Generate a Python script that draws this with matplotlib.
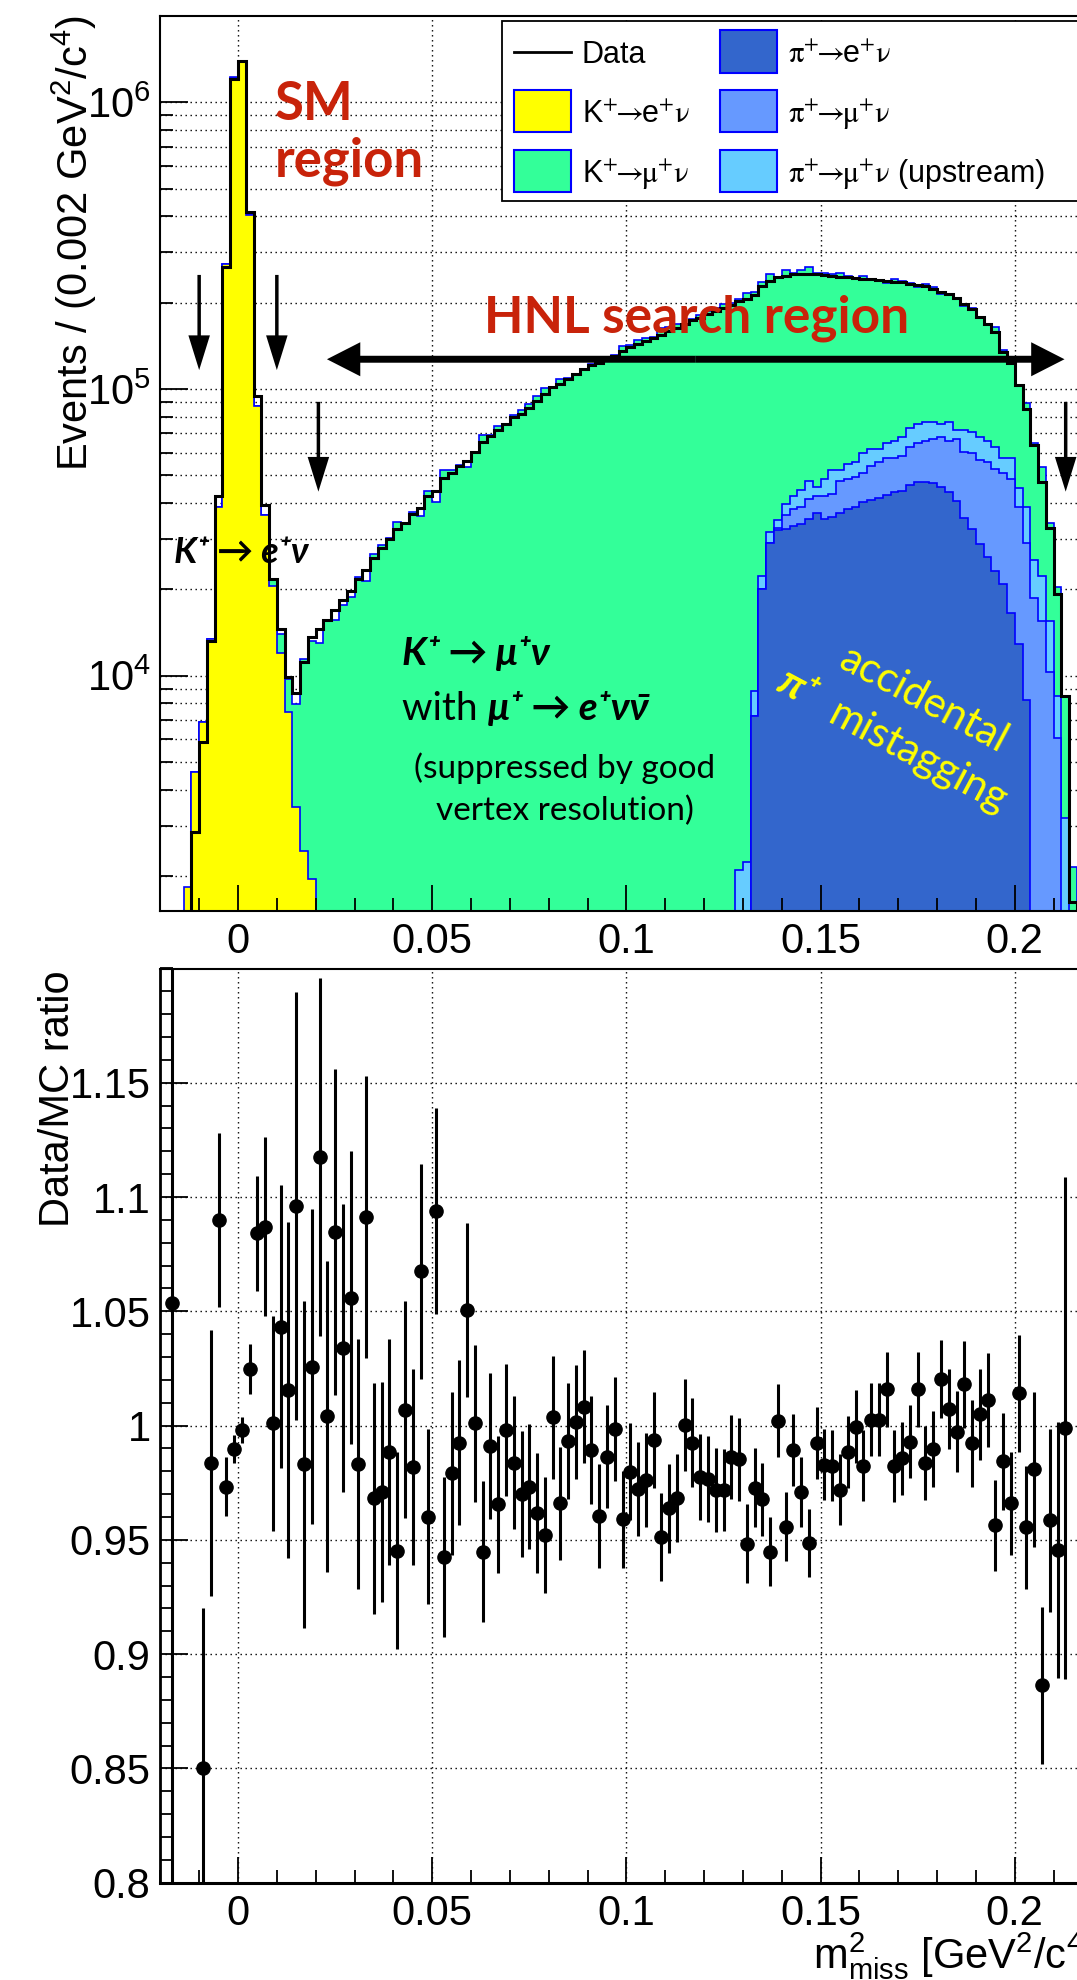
import numpy as np
import matplotlib
matplotlib.use("Agg")
import matplotlib.pyplot as plt
from matplotlib.patches import Rectangle, FancyArrowPatch
from matplotlib.lines import Line2D
from matplotlib.ticker import MultipleLocator, FixedLocator, FuncFormatter, LogLocator, NullFormatter

plt.rcParams["font.family"] = ["Liberation Sans", "DejaVu Sans"]
plt.rcParams["mathtext.fontset"] = "custom"
plt.rcParams["mathtext.rm"] = "Liberation Sans"
plt.rcParams["mathtext.it"] = "Liberation Sans:italic"
plt.rcParams["mathtext.bf"] = "Liberation Sans:bold"

BIN = 0.002  # GeV^2/c^4

# ---- top panel: events per bin ------------------------------------------
# data, first bin starts at m2 = -0.012
data_start = -0.012
data_counts = np.array([
    2840, 5860, 13200, 42200, 266000, 1210000, 1390000, 416000, 94500, 39500,
    21800, 14600, 9900, 8700, 11200, 13600, 14500, 15700, 16950, 18300,
    19800, 21800, 23300, 25800, 27800, 29900, 32400, 34100, 36500, 38600,
    42200, 44100, 49100, 50900, 53700, 56100, 60400, 65400, 68300, 72000,
    75200, 79600, 82100, 86100, 90700, 96100, 101300, 104500, 108200, 113100,
    117100, 120800, 123400, 126200, 130800, 135900, 139800, 143600, 147100, 150600,
    154900, 159200, 163000, 168600, 174500, 177500, 182300, 187000, 191600, 196800,
    202200, 205700, 212100, 229400, 237300, 245300, 248100, 251600, 252500, 252500,
    251600, 249900, 248100, 246400, 245300, 243700, 242800, 241200, 239500, 238700,
    237100, 235500, 233200, 230900, 228600, 224000, 218000, 214200, 207100, 198700,
    190000, 178700, 168600, 157500, 135100, 122800, 103500, 85100, 63700, 47200,
    32700, 19300, 8490, 1630])

# K+ -> e+ nu, first bin starts at -0.014
kenu_start = -0.014
kenu = np.array([1830, 4600, 6900, 13400, 38700, 273000, 1220000, 1390000, 405000,
                 87000, 36300, 20500, 12000, 7450, 3470, 2450, 1950])

# pion mistag backgrounds, stack levels
# pi+ -> e+ nu (bottom), + pi+ -> mu+ nu, + pi+ -> mu+ nu upstream
pienu_start = 0.132
pienu_top = np.array([
    7210, 20000, 29100, 32200, 32600, 33400, 33900, 35100, 37000, 35100,
    35900, 37000, 38300, 38900, 40300, 40900, 41700, 42700, 43800, 44100,
    46100, 47200, 47200, 46900, 45700, 43700, 40700, 35500, 32400, 28800,
    25900, 23200, 20900, 16600, 12900, 8240])
pimunu_start = 0.132
pimunu_top = np.array([
    7210, 20000, 29100, 32800, 36300, 38300, 38900, 41200, 42400, 42400,
    43100, 47700, 48600, 49400, 51100, 53800, 55600, 57500, 57500, 58500,
    62700, 64900, 65900, 67000, 68200, 65900, 67000, 60500, 59600, 56600,
    55600, 52800, 51100, 48600, 38900, 29100, 18700, 15500, 10300, 6080])
piup_start = 0.128
piup_top = np.array([
    2100, 2240, 8850, 22200, 31700, 34900, 39600, 42400, 44600, 47700,
    45400, 48600, 52000, 52000, 54700, 55600, 60000, 61600, 61600, 64900,
    65900, 68200, 73100, 75600, 76900, 76900, 75600, 76900, 71800, 71800,
    70600, 68200, 65900, 62700, 57500, 57500, 45000, 38900, 25400, 22300,
    15500, 8500, 3200])

# MC level of the last visible bin (its ratio point is outside the picture)
MC_LAST_BIN = 2160

# ---- bottom panel: Data/MC ratio, first point centred at -0.017 ----------
ratio_start = -0.017
nan = np.nan
ratio = np.array([
    1.0535, nan, nan, nan, 0.8502, 0.9836, 1.090, 0.9733, 0.9897, 0.998,
    1.0248, 1.0841, 1.087, 1.001, 1.0433, 1.0156, 1.0962, 0.983, 1.0258, 1.1176,
    1.004, 1.0848, 1.0338, 1.056, 0.983, 1.0911, 0.9682, 0.9711, 0.9883, 0.9452,
    1.0069, 0.9818, 1.0676, 0.9602, 1.0939, 0.9427, 0.9792, 0.9926, 1.0506, 1.001,
    0.9449, 0.9911, 0.9656, 0.9981, 0.9838, 0.9701, 0.9733, 0.9617, 0.9522, 1.0036,
    0.966, 0.9933, 1.0017, 1.0083, 0.9894, 0.9606, 0.9864, 0.9985, 0.959, 0.9799,
    0.9723, 0.9762, 0.9937, 0.9512, 0.9638, 0.9682, 1.0003, 0.9926, 0.9777, 0.9767,
    0.9719, 0.9719, 0.9864, 0.9853, 0.9483, 0.9729, 0.9678, 0.9449, 1.0022, 0.9558,
    0.9894, 0.9708, 0.9485, 0.9923, 0.9828, 0.9824, 0.9719, 0.9886, 0.9996, 0.9825,
    1.0025, 1.0025, 1.0159, 0.9824, 0.9857, 0.993, 1.0159, 0.9838, 0.9897, 1.0204,
    1.0073, 0.9974, 1.0181, 0.9923, 1.005, 1.0112, 0.9563, 0.9843, 0.966, 1.0141,
    0.9555, 0.9809, 0.8864, 0.9585, 0.9454, 0.999])
ratio_err = np.array([
    0.5, nan, nan, nan, 0.0702, 0.0583, 0.0379, 0.0129, 0.0061, 0.0058,
    0.011, 0.0251, 0.0392, 0.047, 0.062, 0.0736, 0.0937, 0.0717, 0.069, 0.0784,
    0.068, 0.0714, 0.063, 0.064, 0.0547, 0.0617, 0.0506, 0.0481, 0.0494, 0.0431,
    0.0474, 0.043, 0.047, 0.0383, 0.045, 0.035, 0.0357, 0.0359, 0.038, 0.0343,
    0.031, 0.0318, 0.030, 0.0287, 0.0292, 0.0277, 0.0273, 0.0262, 0.0255, 0.0268,
    0.0248, 0.0253, 0.025, 0.0247, 0.0237, 0.0227, 0.0226, 0.0226, 0.0211, 0.0211,
    0.0206, 0.0204, 0.0208, 0.0192, 0.0195, 0.0192, 0.020, 0.0193, 0.0188, 0.0187,
    0.0184, 0.018, 0.0184, 0.0182, 0.0173, 0.0173, 0.016, 0.0149, 0.0159, 0.015,
    0.0157, 0.0153, 0.0149, 0.0157, 0.0155, 0.0155, 0.0155, 0.0157, 0.0159, 0.0155,
    0.016, 0.016, 0.0165, 0.0157, 0.0159, 0.016, 0.0163, 0.0162, 0.0165, 0.0171,
    0.0176, 0.0178, 0.019, 0.019, 0.0199, 0.0204, 0.020, 0.0214, 0.0224, 0.0257,
    0.0268, 0.0339, 0.0343, 0.040, 0.056, 0.1098])

# colours
GREEN = "#33FF99"
YELLOW = "#FFFF00"
DARK = "#3366CC"
MED = "#6699FF"
LIGHT = "#66CCFF"
EDGE = "#0000FF"
RED = "#C8230A"
CAL = ["Lato", "Noto Sans", "DejaVu Sans"]


def edges(start, n):
    return start + BIN * np.arange(n + 1)


# total MC = data / ratio where a ratio point exists
n_data = data_counts.size
off = int(round((data_start - (ratio_start - BIN / 2)) / BIN))
ratio_on_data = np.full(n_data, np.nan)
m = min(ratio.size - off, n_data)
ratio_on_data[:m] = ratio[off:off + m]
mc_total = data_counts / ratio_on_data
mc_total[0] = kenu[1]
mc_total[-1] = MC_LAST_BIN

# ---- figure ---------------------------------------------------------------
W, H = 1077, 1980
fig = plt.figure(figsize=(W / 100, H / 100), dpi=100)

X_LO, X_HI = -0.02, 0.25
PX0, PXS = 238.0, 3884.0   # pixel column of m2=0 and pixels per unit
AX_L = PX0 + PXS * X_LO
AX_R = PX0 + PXS * X_HI

top = fig.add_axes([AX_L / W, 1 - 911 / H, (AX_R - AX_L) / W, (911 - 15.7) / H])
bot = fig.add_axes([AX_L / W, 1 - 1882.7 / H, (AX_R - AX_L) / W, (1882.7 - 968.5) / H])

DOT = (0, (1, 2.6))
tick_fmt = FuncFormatter(lambda v, p: f"{round(v, 4) + 0:g}")

# top panel
top.set_yscale("log")
top.set_xlim(X_LO, X_HI)
top.set_ylim(1511, 2.005e6)
for xv in np.arange(0, 0.2501, 0.05):
    top.axvline(xv, color="black", lw=1.0, ls=DOT, zorder=0.5)
for dec in [1e3, 1e4, 1e5, 1e6]:
    for mm in range(1, 10):
        yv = dec * mm
        if 1511 < yv < 2.0e6:
            top.axhline(yv, color="black", lw=1.0, ls=DOT, zorder=0.5)

top.stairs(mc_total, edges(data_start, n_data), baseline=1, fill=True,
           facecolor=GREEN, edgecolor=EDGE, lw=1.2, zorder=1.0)
top.stairs(kenu, edges(kenu_start, kenu.size), baseline=1, fill=True,
           facecolor=YELLOW, edgecolor=EDGE, lw=1.2, zorder=1.1)
top.stairs(piup_top, edges(piup_start, piup_top.size), baseline=1, fill=True,
           facecolor=LIGHT, edgecolor=EDGE, lw=1.2, zorder=1.2)
top.stairs(pimunu_top, edges(pimunu_start, pimunu_top.size), baseline=1, fill=True,
           facecolor=MED, edgecolor=EDGE, lw=1.2, zorder=1.3)
top.stairs(pienu_top, edges(pienu_start, pienu_top.size), baseline=1, fill=True,
           facecolor=DARK, edgecolor=EDGE, lw=1.2, zorder=1.4)
top.stairs(data_counts, edges(data_start, n_data), baseline=1, fill=False,
           color="black", lw=2.2, zorder=2)

top.xaxis.set_major_locator(MultipleLocator(0.05))
top.xaxis.set_minor_locator(MultipleLocator(0.01))
top.xaxis.set_major_formatter(tick_fmt)
top.yaxis.set_major_locator(LogLocator(base=10))
top.yaxis.set_minor_locator(LogLocator(base=10, subs=np.arange(2, 10)))
top.yaxis.set_minor_formatter(NullFormatter())

for ax in (top, bot):
    ax.tick_params(axis="both", which="both", direction="in", top=False, right=False,
                   labelsize=30, width=1.3)
    ax.tick_params(axis="y", which="major", length=20, pad=7)
    ax.tick_params(axis="y", which="minor", length=9)
    ax.tick_params(axis="x", which="major", length=19, pad=8)
    ax.tick_params(axis="x", which="minor", length=9.5)
    ax.spines["right"].set_visible(False)
    for s in ax.spines.values():
        s.set_linewidth(1.5)
        s.set_zorder(3)


# arrows
def simple_arrow(ax, start, end, head_len, head_w, tail_w):
    style = f"simple,head_length={head_len},head_width={head_w},tail_width={tail_w}"
    ax.add_patch(FancyArrowPatch(start, end, arrowstyle=style, mutation_scale=1,
                                 color="black", lw=0, shrinkA=0, shrinkB=0, zorder=4))


for xa in (-0.01, 0.01):
    simple_arrow(top, (xa, 2.5e5), (xa, 1.164e5), 25, 15.5, 2.5)
for xa in (0.0207, 0.2131):
    simple_arrow(top, (xa, 9.02e4), (xa, 4.385e4), 25, 15.5, 2.5)
mid = (0.0229 + 0.2128) / 2
simple_arrow(top, (mid, 1.27e5), (0.0229, 1.27e5), 24, 24.5, 5)
simple_arrow(top, (mid, 1.27e5), (0.2128, 1.27e5), 24, 24.5, 5)

# bottom panel
bot.set_xlim(X_LO, X_HI)
bot.set_ylim(0.8, 1.2)
for xv in np.arange(0, 0.2501, 0.05):
    bot.axvline(xv, color="black", lw=1.0, ls=DOT, zorder=0.5)
for yv in np.arange(0.85, 1.151, 0.05):
    bot.axhline(yv, color="black", lw=1.0, ls=DOT, zorder=0.5)
rx = ratio_start + BIN * np.arange(ratio.size)
bot.errorbar(rx, ratio, yerr=ratio_err, fmt="o", color="black", ms=9.5,
             elinewidth=2.2, capsize=0, zorder=2)
bot.xaxis.set_major_locator(MultipleLocator(0.05))
bot.xaxis.set_minor_locator(MultipleLocator(0.01))
bot.xaxis.set_major_formatter(tick_fmt)
bot.yaxis.set_major_locator(FixedLocator(np.round(np.arange(0.8, 1.151, 0.05), 2)))
bot.yaxis.set_minor_locator(MultipleLocator(0.01))
bot.yaxis.set_major_formatter(tick_fmt)
bot.spines["bottom"].set_linewidth(2.2)
bot.spines["left"].set_linewidth(2.0)


def fxy(x_px, y_px):
    return x_px / W, 1 - y_px / H


# axis titles
fig.text(*fxy(88, 15), r"Events / (0.002 GeV$^{2}$/c$^{4}$)", fontsize=30,
         rotation=90, rotation_mode="anchor", ha="right", va="baseline")
fig.text(*fxy(69, 970), "Data/MC ratio", fontsize=30,
         rotation=90, rotation_mode="anchor", ha="right", va="baseline")
fig.text(*fxy(813, 1969), r"$\mathrm{m}^{2}_{\mathrm{miss}}$ [GeV$^{2}$/c$^{4}$]",
         fontsize=30, ha="left", va="baseline")

# legend (box runs past the right edge like the original)
fig.add_artist(Rectangle(fxy(502, 201), (1130 - 502) / W, (201 - 20.7) / H,
                         transform=fig.transFigure, facecolor="white",
                         edgecolor="black", lw=1.3, zorder=5))
fig.add_artist(Line2D([514 / W, 571 / W], [1 - 51.7 / H] * 2, transform=fig.transFigure,
                      color="black", lw=2, zorder=6))
legend_boxes = [(514, 111, YELLOW), (514, 171, GREEN),
                (720, 51.5, DARK), (720, 111, MED), (720, 171, LIGHT)]
for bx, by, col in legend_boxes:
    fig.add_artist(Rectangle(fxy(bx, by + 21), 57 / W, 42 / H, transform=fig.transFigure,
                             facecolor=col, edgecolor=EDGE, lw=1.5, zorder=6))
ARR = r"\!\!\rightarrow\!\!"
legend_text = [
    (582, 63.3, "Data"),
    (582, 123.3, r"K$^{+}" + ARR + r"$e$^{+}\mathrm{\nu}$"),
    (582, 183.3, r"K$^{+}" + ARR + r"\mathrm{\mu}^{+}\mathrm{\nu}$"),
    (788, 63.3, r"$\mathrm{\pi}^{+}" + ARR + r"$e$^{+}\mathrm{\nu}$"),
    (788, 123.3, r"$\mathrm{\pi}^{+}" + ARR + r"\mathrm{\mu}^{+}\mathrm{\nu}$"),
    (788, 183.3, r"$\mathrm{\pi}^{+}" + ARR + r"\mathrm{\mu}^{+}\mathrm{\nu}$ (upstream)"),
]
for tx, ty, lab in legend_text:
    fig.text(*fxy(tx, ty), lab, fontsize=22, ha="left", va="baseline",
             math_fontfamily="stix", zorder=7)

# annotations
fig.text(*fxy(275, 120), "SM", color=RED, fontsize=38, fontweight="bold", family=CAL,
         ha="left", va="baseline")
fig.text(*fxy(275, 177), "region", color=RED, fontsize=38, fontweight="bold", family=CAL,
         ha="left", va="baseline")
fig.text(*fxy(484, 333), "HNL search region", color=RED, fontsize=37, fontweight="bold",
         family=CAL, ha="left", va="baseline")
fig.text(*fxy(174, 563), "K\u207a \u2192 e\u207a\u03bd", fontsize=26, fontweight="bold",
         style="italic", family=CAL, ha="left", va="baseline")
fig.text(*fxy(402, 665), "K\u207a \u2192 \u03bc\u207a\u03bd", fontsize=28, fontweight="bold",
         style="italic", family=CAL, ha="left", va="baseline")
t_with = fig.text(*fxy(402, 720), "with ", fontsize=28, family=CAL,
                  ha="left", va="baseline")
t_decay = fig.text(*fxy(480, 720), "\u03bc\u207a \u2192 e\u207a\u03bd\u03bd\u0304",
                   fontsize=28, fontweight="bold", style="italic", family=CAL,
                   ha="left", va="baseline")
fig.text(*fxy(565, 778), "(suppressed by good", fontsize=24, family=CAL,
         ha="center", va="baseline")
fig.text(*fxy(565, 820), "vertex resolution)", fontsize=24, family=CAL,
         ha="center", va="baseline")
fig.text(*fxy(924, 700), "accidental", color=YELLOW, fontsize=30, family=CAL,
         rotation=-28, rotation_mode="anchor", ha="center", va="center")
fig.text(*fxy(798, 688), "\u03c0\u207a", color=YELLOW, fontsize=30, fontweight="bold",
         style="italic", family=CAL, rotation=-28, rotation_mode="anchor",
         ha="center", va="center")
fig.text(*fxy(918, 757), "mistagging", color=YELLOW, fontsize=30, family=CAL,
         rotation=-28, rotation_mode="anchor", ha="center", va="center")

# put the bold decay right after "with "
fig.canvas.draw()
bb = t_with.get_window_extent()
t_decay.set_position((bb.x1 / W, 1 - 720 / H))

fig.savefig("out.png", dpi=100)
